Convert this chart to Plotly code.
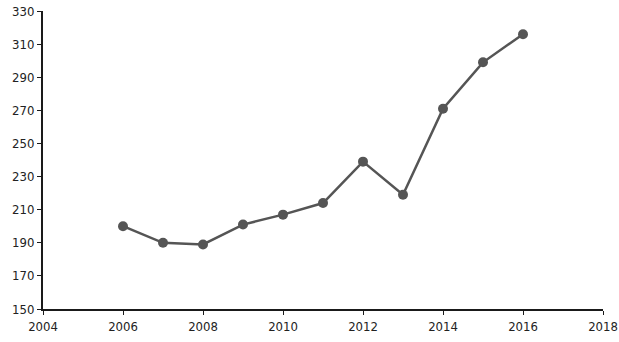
import plotly.graph_objects as go

years = [2006, 2007, 2008, 2009, 2010, 2011, 2012, 2013, 2014, 2015, 2016]
values = [200, 190, 189, 201, 207, 214, 239, 219, 271, 299, 316]

x_ticks = [2004, 2006, 2008, 2010, 2012, 2014, 2016, 2018]
y_ticks = [150, 170, 190, 210, 230, 250, 270, 290, 310, 330]

fig = go.Figure(go.Scatter(
    x=years, y=values, mode="lines+markers",
    line=dict(color="#555555", width=2.5),
    marker=dict(color="#555555", size=10),
    cliponaxis=False,
))

font = dict(family="DejaVu Sans Condensed", size=13, color="#222222")

fig.update_layout(
    width=619, height=342,
    margin=dict(l=43, r=16, t=11, b=33),
    paper_bgcolor="white", plot_bgcolor="white",
    showlegend=False,
    font=font,
)
fig.update_xaxes(
    range=[2004, 2018], tickvals=x_ticks, showgrid=False, zeroline=False,
    showline=True, linecolor="#1a1a1a", linewidth=2, automargin=False,
    ticks="outside", ticklen=4, tickwidth=1, tickcolor="#1a1a1a",
    ticklabeloverflow="allow",
)
fig.update_yaxes(
    range=[150, 330], tickvals=y_ticks, showgrid=False, zeroline=False,
    showline=True, linecolor="#1a1a1a", linewidth=2, automargin=False,
    ticks="outside", ticklen=4, tickwidth=1, tickcolor="#1a1a1a",
    ticklabeloverflow="allow",
)

fig.write_html(
    "out.html",
    config={"displayModeBar": False},
    post_script="document.body.style.margin='0';document.body.style.overflow='hidden';",
)
